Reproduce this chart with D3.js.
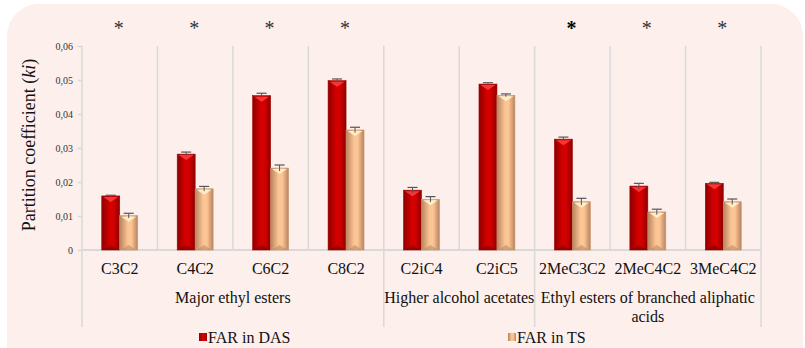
<!DOCTYPE html>
<html>
<head>
<meta charset="utf-8">
<script src="https://cdn.jsdelivr.net/npm/d3@7"></script>
<style>
  body { margin: 0; background: #fff; }
  svg { display: block; font-family: "Liberation Serif", "Times New Roman", serif; }
</style>
</head>
<body>
<svg id="chart" width="805" height="348"></svg>
<script>
// data
const categories = ["C3C2", "C4C2", "C6C2", "C8C2", "C2iC4", "C2iC5", "2MeC3C2", "2MeC4C2", "3MeC4C2"];
const farDAS = [0.0159, 0.0282, 0.0454, 0.0498, 0.0176, 0.0488, 0.0326, 0.0188, 0.0196];
const farDASErr = [0.0002, 0.0006, 0.0007, 0.0005, 0.0008, 0.0004, 0.0006, 0.0008, 0.0003];
const farTS = [0.0101, 0.0180, 0.0241, 0.0353, 0.0149, 0.0455, 0.0142, 0.0112, 0.0142];
const farTSErr = [0.0007, 0.0007, 0.0009, 0.0008, 0.0008, 0.0004, 0.0010, 0.0008, 0.0008];
const significant = [true, true, true, true, false, false, true, true, true];
const groups = [
  {name: ["Major ethyl esters"], from: 0, to: 3},
  {name: ["Higher alcohol acetates"], from: 4, to: 5},
  {name: ["Ethyl esters of branched aliphatic", "acids"], from: 6, to: 8}
];
const yTicks = [0, 0.01, 0.02, 0.03, 0.04, 0.05, 0.06];
const seriesNames = ["FAR in DAS", "FAR in TS"];

const svg = d3.select("#chart");
const plot = {left: 82, right: 761, top: 46, bottom: 250};

// rounded pink background
svg.append("rect")
  .attr("x", 7).attr("y", 4)
  .attr("width", 796).attr("height", 380)
  .attr("rx", 32).attr("ry", 32)
  .attr("fill", "#fcefec");

const defs = svg.append("defs");
function barGrad(id, edge, mid) {
  const g = defs.append("linearGradient").attr("id", id)
    .attr("x1", "0%").attr("x2", "100%").attr("y1", "0%").attr("y2", "0%");
  g.append("stop").attr("offset", "0%").attr("stop-color", edge);
  g.append("stop").attr("offset", "45%").attr("stop-color", mid);
  g.append("stop").attr("offset", "65%").attr("stop-color", mid);
  g.append("stop").attr("offset", "100%").attr("stop-color", edge);
}
barGrad("gRed", "#8e0000", "#d40000");
barGrad("gTan", "#b8845e", "#fcc595");

const x0 = d3.scaleBand().domain(categories).range([plot.left, plot.right]).paddingInner(0).paddingOuter(0);
const x1 = d3.scaleBand().domain([0, 1]).range([0, x0.bandwidth()]).paddingOuter(1.1).paddingInner(0);
const y = d3.scaleLinear().domain([0, 0.06]).range([plot.bottom, plot.top]);

const grid = "#d9d9d9";

// vertical separators between categories
svg.append("g").selectAll("line")
  .data(categories)
  .join("line")
  .attr("x1", d => x0(d) + x0.bandwidth())
  .attr("x2", d => x0(d) + x0.bandwidth())
  .attr("y1", plot.top).attr("y2", plot.bottom)
  .attr("stroke", grid).attr("stroke-width", 1.5);

// group separators continue down under the labels
const groupEdges = [groups[0].from].concat(groups.map(g => g.to + 1));
svg.append("g").selectAll("line")
  .data(groupEdges)
  .join("line")
  .attr("x1", d => d < categories.length ? x0(categories[d]) : plot.right)
  .attr("x2", d => d < categories.length ? x0(categories[d]) : plot.right)
  .attr("y1", d => d === 0 ? plot.top : plot.bottom)
  .attr("y2", 327)
  .attr("stroke", grid).attr("stroke-width", 1.5);

// y axis
const yAxis = svg.append("g")
  .attr("transform", `translate(${plot.left},0)`)
  .call(d3.axisLeft(y).tickValues(yTicks).tickSize(4).tickPadding(5)
    .tickFormat(d => d === 0 ? "0" : d3.format(".2f")(d).replace(".", ",")));
yAxis.select(".domain").remove();
yAxis.selectAll(".tick line").attr("stroke", grid).attr("stroke-width", 1.5);
yAxis.selectAll(".tick text")
  .attr("font-family", "Liberation Serif, serif")
  .attr("font-size", 10).attr("fill", "#333");

// x axis line
svg.append("line")
  .attr("x1", plot.left).attr("x2", plot.right)
  .attr("y1", plot.bottom).attr("y2", plot.bottom)
  .attr("stroke", grid).attr("stroke-width", 2);

// y title
const yt = svg.append("text")
  .attr("transform", `translate(35,${(plot.top + plot.bottom) / 2 - 3}) rotate(-90)`)
  .attr("text-anchor", "middle")
  .attr("font-size", 18).attr("fill", "#111");
yt.append("tspan").text("Partition coefficient (");
yt.append("tspan").attr("font-style", "italic").text("ki");
yt.append("tspan").text(")");

// bars
const series = [
  {vals: farDAS, err: farDASErr, fill: "url(#gRed)", hi: "#ff3b3b", lo: "#7a0000"},
  {vals: farTS, err: farTSErr, fill: "url(#gTan)", hi: "#fff2cf", lo: "#c08a60"}
];
const bw = x1.bandwidth();

series.forEach((s, si) => {
  const g = svg.append("g");
  const bars = g.selectAll("g").data(categories).join("g")
    .attr("transform", d => `translate(${x0(d) + x1(si)},0)`);
  bars.append("rect")
    .attr("x", 0).attr("width", bw)
    .attr("y", (d, i) => y(s.vals[i]))
    .attr("height", (d, i) => y(0) - y(s.vals[i]))
    .attr("fill", s.fill)
    .attr("stroke", si === 0 ? "#a00000" : "#c9946c").attr("stroke-width", 0.6);
  // bevel highlight at the top
  bars.append("path")
    .attr("d", (d, i) => {
      const t = y(s.vals[i]);
      return `M1.5,${t + 1}L${bw - 1.5},${t + 1}L${bw / 2},${t + 6}Z`;
    })
    .attr("fill", s.hi).attr("opacity", 0.9);
  // bevel shade at the bottom
  bars.append("path")
    .attr("d", () => {
      const b = y(0);
      return `M1.5,${b}L${bw - 1.5},${b}L${bw / 2},${b - 5}Z`;
    })
    .attr("fill", s.lo).attr("opacity", 0.6);
  // error bars
  bars.append("line")
    .attr("x1", bw / 2).attr("x2", bw / 2)
    .attr("y1", (d, i) => y(s.vals[i] - s.err[i]))
    .attr("y2", (d, i) => y(s.vals[i] + s.err[i]))
    .attr("stroke", "#555").attr("stroke-width", 1);
  bars.append("line")
    .attr("x1", bw / 2 - 5).attr("x2", bw / 2 + 5)
    .attr("y1", (d, i) => y(s.vals[i] + s.err[i]))
    .attr("y2", (d, i) => y(s.vals[i] + s.err[i]))
    .attr("stroke", "#555").attr("stroke-width", 1.2);
});

// significance stars
svg.append("g").selectAll("text")
  .data(categories.filter((d, i) => significant[i]))
  .join("text")
  .attr("x", d => x0(d) + x0.bandwidth() / 2 - 1)
  .attr("y", 35)
  .attr("text-anchor", "middle")
  .attr("font-size", 20)
  .attr("font-weight", d => d === "2MeC3C2" ? "bold" : "normal")
  .attr("fill", d => d === "2MeC3C2" ? "#000" : "#333")
  .text("*");

// category labels
svg.append("g").selectAll("text")
  .data(categories)
  .join("text")
  .attr("x", d => x0(d) + x0.bandwidth() / 2)
  .attr("y", 274)
  .attr("text-anchor", "middle")
  .attr("font-size", 16).attr("fill", "#111")
  .text(d => d);

// group labels
groups.forEach(gr => {
  const cx = (x0(categories[gr.from]) + x0(categories[gr.to]) + x0.bandwidth()) / 2;
  const t = svg.append("text")
    .attr("text-anchor", "middle")
    .attr("font-size", 16).attr("fill", "#111");
  gr.name.forEach((line, k) => {
    t.append("tspan").attr("x", cx).attr("y", 303 + k * 19).text(line);
  });
});

// legend
const legend = [
  {x: 199, fill: "url(#gRed)"},
  {x: 508, fill: "url(#gTan)"}
];
legend.forEach((l, i) => {
  svg.append("rect")
    .attr("x", l.x).attr("y", 333).attr("width", 8).attr("height", 8)
    .attr("fill", l.fill);
  svg.append("text")
    .attr("x", l.x + 9).attr("y", 343)
    .attr("font-size", 16).attr("fill", "#111")
    .text(seriesNames[i]);
});
</script>
</body>
</html>
